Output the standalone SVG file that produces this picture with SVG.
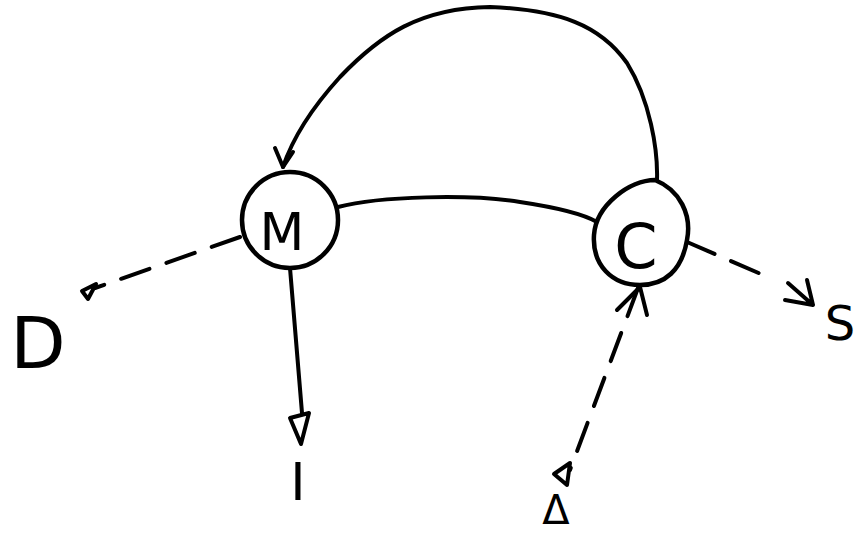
<svg xmlns="http://www.w3.org/2000/svg" width="858" height="536" viewBox="0 0 858 536">
<style>
.ln{fill:none;stroke:#000;stroke-width:4;stroke-linecap:round;stroke-linejoin:round}
.ds{stroke-dasharray:30 18}
.nd{fill:#fff;stroke:#000;stroke-width:4.5}
.tx{font-family:"DejaVu Sans","Liberation Sans",sans-serif;fill:#000;text-anchor:middle}
</style>
<rect width="858" height="536" fill="#fff"/>
<g id="connectors">
<path class="ln" d="M657,180 C658,150 650,100 627,63 C600,25 560,10 490,7 C420,8 380,35 340,77 C310,110 292,140 283,167"/>
<path class="ln" d="M275,148 L283,167 L293,152"/>
<path class="ln" d="M338,207 C380,196 470,194 520,202 C560,208 585,215 597,222"/>
<path class="ln ds" d="M240,237 L95,288"/>
<path class="ln" d="M82,291 L96,284 L88,299 Z"/>
<path class="ln" d="M290,268 L302,413"/>
<path class="ln" d="M290,418 L309,413 L301,444 Z"/>
<path class="ln ds" d="M638,288 L570,470" stroke-dasharray="58 22"/>
<path class="ln" d="M554,474 L570,463 L567,485 Z"/>
<path class="ln" d="M617,310 L640,287 L647,315"/>
<path class="ln ds" d="M687,242 L770,278" stroke-dasharray="48 14"/>
<path class="ln" d="M788,283 L813,305 L785,300 M807,280 L813,305"/>
</g>
<g id="node-M">
<circle class="nd" cx="290" cy="220" r="48"/>
<text class="tx" x="282" y="250" font-size="52">M</text>
</g>
<g id="node-C">
<path class="nd" d="M655,180 C680,190 692,215 687,240 C682,270 665,285 640,285 C612,285 592,265 594,235 C596,205 630,180 655,180 Z"/>
<text class="tx" x="636" y="268" font-size="62">C</text>
</g>
<g id="node-D">
<text class="tx" x="38" y="368" font-size="72">D</text>
</g>
<g id="node-I">
<text class="tx" x="298" y="500" font-size="52">I</text>
</g>
<g id="node-A">
<text class="tx" x="556" y="524" font-size="40">Δ</text>
</g>
<g id="node-S">
<text class="tx" x="840" y="340" font-size="48">S</text>
</g>
</svg>
